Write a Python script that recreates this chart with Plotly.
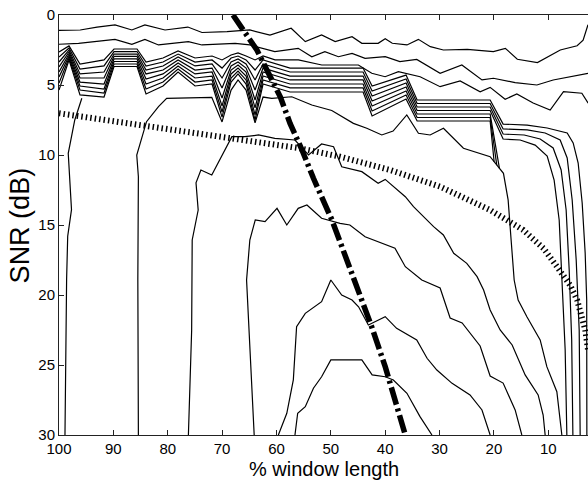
import plotly.graph_objects as go

# ---- data (x: % window length, y: SNR in dB) ----
L1_x = [100, 96.1, 93.0, 89.7, 86.6, 84.2, 80.5, 76.3, 73.7, 69.1, 64.9, 61.2, 57.3, 54.7, 51.7, 49.2, 46.1, 44.3, 41.3, 40.0, 38.7, 36.0, 33.9, 31.7, 29.3, 24.9, 20.1, 17.9, 15.7, 12.0, 7.8, 4.7, 3.6, 2.7]
L1_y = [1.1, 1.07, 0.86, 0.71, 1.07, 0.71, 1.07, 0.86, 1.25, 1.19, 1.07, 1.43, 0.95, 1.9, 1.43, 1.9, 1.55, 2.02, 2.02, 1.69, 2.02, 2.14, 1.74, 2.26, 2.5, 2.45, 2.62, 2.38, 3.16, 3.4, 2.5, 2.2, 1.8, 0.7]

L2_x = [100, 96.4, 89.7, 86.6, 84.2, 81.7, 76.2, 73.7, 67.6, 64.9, 60.3, 56.0, 53.5, 51.1, 48.6, 46.1, 43.7, 40.0, 37.3, 34.2, 29.9, 25.9, 22.2, 20.1, 16.1, 12.1, 9.1, 6.0, 2.7]
L2_y = [2.09, 2.02, 1.74, 2.09, 1.74, 2.14, 1.9, 2.14, 2.02, 2.14, 2.62, 2.38, 2.98, 2.62, 2.98, 2.74, 3.1, 2.98, 3.33, 3.17, 4.17, 3.57, 4.64, 4.52, 4.83, 5.0, 4.64, 4.4, 4.17]

# zig-zag bundle, left part (shared x positions)
BX = [100, 98.16, 96.14, 91.72, 89.88, 85.65, 83.99, 80.87, 78.10, 74.98, 71.85, 70.01, 68.35, 67.07, 65.59, 63.94, 62.47]
B1_y = [2.64, 2.21, 3.50, 3.21, 2.43, 2.43, 3.36, 3.07, 2.57, 3.07, 2.93, 3.21, 2.86, 2.71, 2.93, 3.21, 2.93]
B2_y = [3.00, 2.36, 3.86, 3.64, 2.61, 2.61, 3.64, 3.36, 2.79, 3.36, 3.21, 3.79, 3.07, 2.93, 3.21, 3.93, 3.21]
B3_y = [3.36, 2.50, 4.21, 4.07, 2.79, 2.79, 3.93, 3.64, 3.00, 3.64, 3.50, 4.50, 3.36, 3.14, 3.50, 4.64, 3.50]
B4_y = [3.71, 2.64, 4.50, 4.50, 2.96, 2.96, 4.21, 3.93, 3.21, 3.93, 3.79, 5.21, 3.64, 3.36, 3.79, 5.36, 3.79]
B5_y = [4.07, 2.79, 4.79, 4.93, 3.14, 3.14, 4.57, 4.21, 3.43, 4.21, 4.07, 5.93, 3.93, 3.57, 4.07, 6.07, 4.07]
B6_y = [4.43, 2.93, 5.07, 5.29, 3.32, 3.32, 4.93, 4.50, 3.64, 4.50, 4.36, 6.50, 4.21, 3.79, 4.36, 6.64, 4.36]
B7_y = [4.86, 3.07, 5.36, 5.57, 3.50, 3.50, 5.29, 4.79, 3.86, 4.79, 4.64, 6.93, 4.50, 4.00, 4.64, 7.14, 4.64]
B8_y = [5.36, 3.21, 5.71, 5.86, 3.68, 3.68, 5.64, 5.07, 4.07, 5.07, 4.93, 7.29, 4.79, 4.21, 4.93, 7.50, 4.93]

# top bundle line continuing on the right
L3_x = [60.26, 55.97, 51.67, 44.93, 42.47, 40.02, 37.57, 33.58, 29.90, 26.22, 22.54, 20.70, 17.94, 15.79, 12.79, 9.66, 7.21, 3.83, 2.67]
L3_y = [3.21, 3.21, 3.57, 3.57, 4.16, 4.41, 4.05, 4.41, 5.12, 4.71, 5.48, 5.17, 6.02, 5.64, 6.29, 6.79, 5.48, 5.59, 6.29]

# bundle, right part (shared x positions)
RX = [57.50, 44.07, 42.41, 36.16, 34.13, 20.70, 18.31]
R1_y = [3.79, 3.79, 5.07, 4.29, 6.07, 6.07, 7.79]
R2_y = [4.07, 4.07, 5.43, 4.57, 6.32, 6.32, 8.14]
R3_y = [4.36, 4.36, 5.79, 4.86, 6.57, 6.57, 8.50]
R4_y = [4.64, 4.64, 6.14, 5.14, 6.82, 6.82, 8.86]
# lower bundle lines that stop on the step near 19 %
RS_x = [57.50, 44.07, 42.41, 36.16, 34.13, 20.70]
R5_y = [4.93, 4.93, 6.50, 5.43, 7.07, 7.07]
R6_y = [5.21, 5.21, 6.86, 5.71, 7.32, 7.32]
R7_y = [5.50, 5.50, 7.21, 6.00, 7.57, 7.57]
R5_end = ([18.99], [10.95])
R6_end = ([19.48], [10.72])
R7_end = ([19.97], [10.48])

# tails of the bundle lines curving down on the right
T1_x = [13.89, 10.21, 6.53, 5.43, 4.51, 3.77, 3.22, 2.94, 2.91]
T1_y = [7.86, 8.07, 8.43, 9.14, 10.57, 13.43, 17.0, 20.36, 30]
T2_x = [13.89, 10.58, 7.82, 6.53, 5.61, 4.87, 4.32, 4.14]
T2_y = [8.21, 8.43, 8.93, 10.21, 13.21, 17.5, 22.5, 30]
T3_x = [14.44, 11.50, 9.11, 7.64, 6.72, 6.16, 5.70, 5.48]
T3_y = [8.57, 8.86, 9.50, 11.07, 13.93, 18.21, 23.21, 30]
T4_x = [15.18, 12.42, 10.21, 8.93, 8.00, 7.45, 6.90, 6.59]
T4_y = [8.93, 9.29, 10.07, 11.79, 14.64, 18.93, 23.93, 30]

V1_x = [95.8, 97.1, 98.3, 97.7, 98.4, 98.6, 98.9]
V1_y = [5.95, 7.5, 9.88, 13.9, 15.8, 18.9, 30]

V2_x = [85.4, 85.5, 85.4, 85.7, 83.9, 81.7, 80.2, 71.90, 70.01, 68.35, 67.07, 65.59, 63.94, 62.47, 60.87, 57.19, 53.50, 49.83, 45.85, 43.39, 40.63, 38.55, 36.03, 33.89, 31.74, 29.29, 25.61, 20.70, 18.25, 17.39, 16.84, 16.28, 15.55, 13.94, 11.50, 10.27, 8.43, 7.51]
V2_y = [30, 18.9, 11.55, 10.0, 7.62, 6.55, 5.95, 5.88, 7.64, 5.36, 4.64, 5.36, 7.71, 5.86, 5.95, 5.84, 6.43, 6.82, 7.74, 8.09, 8.57, 8.29, 7.14, 8.45, 8.57, 8.09, 9.52, 10.12, 11.31, 13.21, 16.07, 18.93, 20.36, 21.55, 23.21, 25.12, 26.91, 30]

V3_x = [76.2, 75.6, 75.5, 74.4, 74.8, 73.9, 71.9, 68.2, 65.8, 63.3, 60.3, 56.6, 54.1, 51.7, 49.5, 48.0, 44.3, 41.3, 40.0, 36.3, 34.8, 31.1, 29.3, 27.4, 25.0, 23.1, 21.9, 20.70, 18.86, 16.65, 14.26, 11.87, 10.95, 10.58]
V3_y = [30, 22.5, 16.07, 13.93, 11.98, 11.07, 11.43, 8.69, 8.69, 8.57, 8.81, 8.93, 10.0, 9.21, 9.41, 10.84, 11.19, 12.02, 11.74, 12.98, 13.69, 15.12, 15.71, 17.02, 17.74, 18.69, 19.64, 21.07, 22.5, 23.57, 25.71, 27.14, 28.57, 30]

V4_x = [64.1, 65.5, 64.9, 63.9, 62.1, 59.9, 58.1, 56.0, 54.4, 51.7, 48.3, 46.5, 43.7, 40.6, 38.2, 36.3, 33.27, 29.90, 28.06, 25.85, 22.54, 20.70, 18.31, 16.10, 14.87]
V4_y = [30, 18.93, 16.07, 14.64, 14.76, 13.81, 15.0, 13.81, 13.57, 14.52, 14.88, 15.0, 15.84, 16.31, 16.66, 17.98, 18.93, 19.5, 21.64, 22.0, 23.64, 25.79, 26.29, 28.21, 30]

P1_x = [59.65, 58.1, 56.9, 56.3, 54.7, 51.7, 50.0, 48.0, 46.1, 44.9, 43.1, 40.0, 37.9, 34.2, 32.3, 30.5, 27.7, 24.4, 22.2, 20.7]
P1_y = [30, 28.45, 26.07, 22.26, 21.31, 20.48, 18.93, 20.0, 20.36, 20.84, 22.14, 21.55, 22.38, 23.21, 24.52, 25.36, 26.31, 27.14, 28.21, 30]

P2_x = [56.6, 56.1, 54.7, 53.2, 51.7, 50.0, 44.3, 42.4, 40.0, 38.5, 36.0, 33.6, 31.4]
P2_y = [30, 28.45, 27.98, 26.66, 25.84, 24.64, 24.64, 25.71, 25.84, 26.07, 27.02, 28.69, 30]

DD_x = [68.0, 63.6, 59.3, 57.5, 55.3, 53.2, 49.8, 46.1, 42.5, 40.0, 36.6, 36.3]
DD_y = [0, 2.5, 5.84, 7.74, 9.64, 11.66, 14.64, 18.45, 22.26, 25.12, 29.64, 30]

DT_x = [100, 55.7, 48.3, 39.1, 29.9, 20.7, 14.6, 10.9, 8.4, 6.0, 4.7, 3.2, 2.7]
DT_y = [7.02, 9.52, 10.12, 11.07, 12.26, 13.93, 15.36, 16.66, 17.98, 19.29, 20.36, 22.5, 23.9]

X_TICKS = [100, 90, 80, 70, 60, 50, 40, 30, 20, 10]
Y_TICKS = [0, 5, 10, 15, 20, 25, 30]

fig = go.Figure()

def add_line(x, y, width=1.2, dash="solid"):
    fig.add_trace(go.Scatter(x=x, y=y, mode="lines",
                             line=dict(color="black", width=width, dash=dash),
                             hoverinfo="skip", showlegend=False))

lines = [
    (L1_x, L1_y), (L2_x, L2_y),
    (BX + L3_x, B1_y + L3_y),
    (BX + RX + T1_x, B2_y + R1_y + T1_y),
    (BX + RX + T2_x, B3_y + R2_y + T2_y),
    (BX + RX + T3_x, B4_y + R3_y + T3_y),
    (BX + RX + T4_x, B5_y + R4_y + T4_y),
    (BX + RS_x + R5_end[0], B6_y + R5_y + R5_end[1]),
    (BX + RS_x + R6_end[0], B7_y + R6_y + R6_end[1]),
    (BX + RS_x + R7_end[0], B8_y + R7_y + R7_end[1]),
    (V1_x, V1_y), (V2_x, V2_y), (V3_x, V3_y), (V4_x, V4_y),
    (P1_x, P1_y), (P2_x, P2_y),
]
for xs, ys in lines:
    add_line(xs, ys)

add_line(DT_x, DT_y, width=6, dash="1.5px,3px")
add_line(DD_x, DD_y, width=5.5, dash="18px,4px,3px,4px")

font = "Liberation Sans, Arial, Helvetica, sans-serif"
fig.update_layout(
    width=588, height=481,
    margin=dict(l=59, r=0, t=15, b=46),
    paper_bgcolor="white", plot_bgcolor="white",
    font=dict(family=font, color="black", size=15),
    xaxis=dict(range=[100, 2.7], tickvals=X_TICKS, ticktext=[str(v) for v in X_TICKS],
               ticks="inside", ticklen=5, tickcolor="#222", showline=True, linecolor="#222",
               mirror="ticks", showgrid=False, zeroline=False, tickfont=dict(size=15)),
    yaxis=dict(range=[30, 0], tickvals=Y_TICKS, ticktext=[str(v) for v in Y_TICKS],
               ticks="inside", ticklen=5, tickcolor="#222", showline=True, linecolor="#222",
               mirror=False, showgrid=False, zeroline=False, tickfont=dict(size=15)),
    annotations=[
        dict(text="% window length", x=0.5, y=-0.1095, xref="paper", yref="paper",
             xanchor="center", yanchor="bottom", showarrow=False, font=dict(size=20),
             borderpad=0),
        dict(text="SNR (dB)", x=-0.073, y=0.5, xref="paper", yref="paper", textangle=-90,
             xanchor="center", yanchor="middle", showarrow=False, font=dict(size=27)),
    ],
)

fig.write_html("out.html")
